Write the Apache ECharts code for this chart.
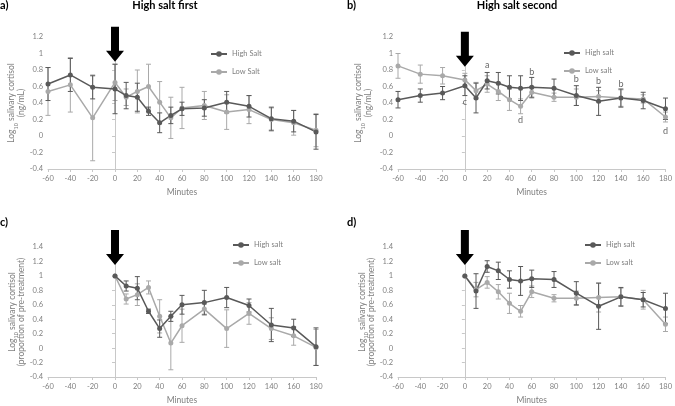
<!DOCTYPE html>
<html>
<head>
<meta charset="utf-8">
<script src="https://cdn.jsdelivr.net/npm/echarts@6/dist/echarts.min.js"></script>
<style>
  html, body { margin: 0; padding: 0; background: #fff; }
  #chart { width: 675px; height: 406px; }
</style>
</head>
<body>
<div id="chart"></div>
<script>
// minutes from start (treatment at 0)
var minutes = [-60, -40, -20, 0, 10, 20, 30, 40, 50, 60, 80, 100, 120, 140, 160, 180]
var minutesPost = [0, 10, 20, 30, 40, 50, 60, 80, 100, 120, 140, 160, 180]

// a) high salt first, log10 cortisol (ng/mL)
var aHigh = [0.63, 0.74, 0.59, 0.57, 0.49, 0.47, 0.30, 0.16, 0.25, 0.33, 0.34, 0.41, 0.36, 0.21, 0.18, 0.05]
var aHighErr = [0.20, 0.20, 0.14, 0.30, 0.16, 0.17, 0.05, 0.12, 0.10, 0.08, 0.10, 0.13, 0.13, 0.14, 0.13, 0.21]
var aLow = [0.54, 0.62, 0.22, 0.65, 0.47, 0.54, 0.60, 0.41, 0.22, 0.34, 0.37, 0.29, 0.32, 0.20, 0.16, 0.07]
var aLowErr = [0.29, 0.33, 0.52, 0.22, 0.10, 0.26, 0.27, 0.25, 0.25, 0.25, 0.17, 0.21, 0.17, 0.14, 0.15, 0.20]

// b) high salt second
var bHigh = [0.44, 0.49, 0.52, 0.61, 0.46, 0.67, 0.64, 0.59, 0.58, 0.59, 0.58, 0.49, 0.42, 0.46, 0.43, 0.33]
var bHighErr = [0.10, 0.08, 0.08, 0.12, 0.18, 0.10, 0.13, 0.14, 0.15, 0.12, 0.11, 0.12, 0.17, 0.11, 0.10, 0.13]
var bLow = [0.85, 0.75, 0.73, 0.68, 0.55, 0.63, 0.54, 0.44, 0.36, 0.53, 0.47, 0.47, 0.48, 0.46, 0.45, 0.23]
var bLowErr = [0.15, 0.11, 0.10, 0.08, 0.10, 0.10, 0.11, 0.13, 0.09, 0.07, 0.05, 0.10, 0.07, 0.10, 0.05, 0.06]
var bLetterX = [20, 0, 50, 60, 100, 120, 140, 180]
var bLetterY = [0.86, 0.41, 0.19, 0.78, 0.69, 0.66, 0.63, 0.06]
var bLetters = ['a', 'c', 'd', 'b', 'b', 'b', 'b', 'd']

// c) high salt first, proportion of pre-treatment
var cHigh = [1.0, 0.86, 0.83, 0.51, 0.27, 0.44, 0.60, 0.63, 0.70, 0.59, 0.32, 0.28, 0.02]
var cHighErr = [0, 0.07, 0.16, 0.03, 0.12, 0.07, 0.13, 0.17, 0.14, 0.09, 0.23, 0.12, 0.26]
var cLow = [1.0, 0.68, 0.74, 0.84, 0.44, 0.07, 0.31, 0.54, 0.27, 0.48, 0.27, 0.17, 0.01]
var cLowErr = [0, 0.07, 0.15, 0.09, 0.23, 0.37, 0.23, 0.07, 0.26, 0.15, 0.15, 0.13, 0.25]

// d) high salt second, proportion of pre-treatment
var dHigh = [1.0, 0.79, 1.13, 1.07, 0.95, 0.93, 0.96, 0.95, 0.76, 0.58, 0.71, 0.67, 0.55]
var dHighErr = [0, 0.24, 0.08, 0.12, 0.12, 0.20, 0.12, 0.11, 0.16, 0.32, 0.13, 0.10, 0.21]
var dLow = [1.0, 0.81, 0.91, 0.78, 0.62, 0.51, 0.78, 0.69, 0.69, 0.70, 0.71, 0.67, 0.33]
var dLowErr = [0, 0.10, 0.08, 0.10, 0.14, 0.08, 0.08, 0.05, 0.10, 0.20, 0.12, 0.13, 0.10]

var arrowTipY = [0.90, 0.84, 1.15, 1.15]

var DARK = '#595959'
var LIGHT = '#a9a9a9'
var AXIS = '#c8c8c8'
var TEXT = '#7f7f7f'
var FONT = 'Lato, "Liberation Sans", sans-serif'

function pairs(xs, ys) {
  var out = []
  for (var i = 0; i < xs.length; i++) out.push([xs[i], ys[i]])
  return out
}

function errData(xs, ys, es) {
  var out = []
  for (var i = 0; i < xs.length; i++) {
    if (es[i] > 0) out.push([xs[i], ys[i] - es[i], ys[i] + es[i]])
  }
  return out
}

function renderErr(params, api) {
  var x = api.value(0)
  var top = api.coord([x, api.value(2)])
  var bot = api.coord([x, api.value(1)])
  var w = 2.5
  var st = { stroke: api.visual('color'), lineWidth: 1 }
  return {
    type: 'group',
    children: [
      { type: 'line', shape: { x1: top[0], y1: top[1], x2: bot[0], y2: bot[1] }, style: st },
      { type: 'line', shape: { x1: top[0] - w, y1: top[1], x2: top[0] + w, y2: top[1] }, style: st },
      { type: 'line', shape: { x1: bot[0] - w, y1: bot[1], x2: bot[0] + w, y2: bot[1] }, style: st }
    ]
  }
}

function errSeries(idx, xs, ys, es, color) {
  return {
    type: 'custom',
    xAxisIndex: idx,
    yAxisIndex: idx,
    renderItem: renderErr,
    itemStyle: { color: color },
    encode: { x: 0, y: [1, 2] },
    data: errData(xs, ys, es),
    z: 2
  }
}

function lineSeries(idx, name, xs, ys, color) {
  return {
    type: 'line',
    name: name,
    xAxisIndex: idx,
    yAxisIndex: idx,
    data: pairs(xs, ys),
    symbol: 'circle',
    symbolSize: 5,
    itemStyle: { color: color },
    lineStyle: { color: color, width: 1.5 },
    z: 3
  }
}

var grids = [
  { left: 48, top: 37, width: 268, height: 132 },
  { left: 398, top: 37, width: 270, height: 132 },
  { left: 48, top: 247, width: 268, height: 131 },
  { left: 398, top: 247, width: 270, height: 131 }
]

var yNames = [
  '{n|Log}{s|10}{n| salivary cortisol}\n{n|(ng/mL)}',
  '{n|Log}{s|10}{n| salivary cortisol}\n{n|(ng/mL)}',
  '{n|Log}{s|10}{n| salivary cortisol}\n{n|(proportion of pre-treatment)}',
  '{n|Log}{s|10}{n| salivary cortisol}\n{n|(proportion of pre-treatment)}'
]
var yGaps = [22, 25, 20, 20]
var yMax = [1.2, 1.2, 1.4, 1.4]

var xAxes = []
var yAxes = []
for (var i = 0; i < 4; i++) {
  xAxes.push({
    type: 'value',
    gridIndex: i,
    min: -60,
    max: 180,
    interval: 20,
    name: 'Minutes',
    nameLocation: 'middle',
    nameGap: 19,
    nameTextStyle: { fontSize: 8.5, color: TEXT, fontFamily: FONT },
    axisLine: { onZero: false, lineStyle: { color: AXIS } },
    axisTick: { show: true, length: 3, lineStyle: { color: AXIS } },
    splitLine: { show: false },
    axisLabel: { fontSize: 7.5, color: TEXT, margin: 6, fontFamily: FONT }
  })
  yAxes.push({
    type: 'value',
    gridIndex: i,
    min: -0.4,
    max: yMax[i],
    interval: 0.2,
    name: yNames[i],
    nameLocation: 'middle',
    nameGap: yGaps[i],
    nameTextStyle: {
      color: TEXT,
      align: 'center',
      fontFamily: FONT,
      rich: {
        n: { fontSize: 8.5, color: TEXT, fontFamily: FONT, lineHeight: 9.5 },
        s: { fontSize: 5.5, color: TEXT, fontFamily: FONT, verticalAlign: 'bottom', lineHeight: 9.5, padding: [0, 0, -3, 0] }
      }
    },
    axisLine: { show: true, lineStyle: { color: AXIS } },
    axisTick: { show: true, length: 3, lineStyle: { color: AXIS } },
    splitLine: { show: false },
    axisLabel: { fontSize: 7.5, color: TEXT, margin: 5, fontFamily: FONT }
  })
}

var legendStyle = { fontSize: 7.5, color: TEXT, fontFamily: FONT }
function legendAt(left, top, names) {
  return {
    left: left, top: top, orient: 'vertical',
    itemWidth: 16, itemHeight: 7, itemGap: 10,
    textStyle: legendStyle,
    data: names
  }
}

var letterData = []
for (var k = 0; k < bLetters.length; k++) {
  letterData.push([bLetterX[k], bLetterY[k], bLetters[k]])
}

var titleStyle = { fontSize: 11, fontWeight: 'bold', color: '#000', fontFamily: FONT }

var option = {
  animation: false,
  title: [
    { text: 'a)', left: 0, top: 0, textStyle: titleStyle, padding: 0 },
    { text: 'High salt first', left: 165, top: 0, textAlign: 'center', textStyle: titleStyle, padding: 0 },
    { text: 'b)', left: 347, top: 0, textStyle: titleStyle, padding: 0 },
    { text: 'High salt second', left: 517, top: 0, textAlign: 'center', textStyle: titleStyle, padding: 0 },
    { text: 'c)', left: 0, top: 217, textStyle: titleStyle, padding: 0 },
    { text: 'd)', left: 347, top: 217, textStyle: titleStyle, padding: 0 }
  ],
  legend: [
    legendAt(205, 45, ['High Salt', 'Low Salt']),
    legendAt(558, 44, ['High salt', 'Low salt']),
    legendAt(227, 236, ['High salt', 'Low salt']),
    legendAt(579, 236, ['High salt', 'Low salt'])
  ],
  grid: grids,
  xAxis: xAxes,
  yAxis: yAxes,
  series: [
    errSeries(0, minutes, aLow, aLowErr, LIGHT),
    lineSeries(0, 'Low Salt', minutes, aLow, LIGHT),
    errSeries(0, minutes, aHigh, aHighErr, DARK),
    lineSeries(0, 'High Salt', minutes, aHigh, DARK),

    errSeries(1, minutes, bLow, bLowErr, LIGHT),
    lineSeries(1, 'Low salt', minutes, bLow, LIGHT),
    errSeries(1, minutes, bHigh, bHighErr, DARK),
    lineSeries(1, 'High salt', minutes, bHigh, DARK),
    {
      type: 'scatter',
      xAxisIndex: 1,
      yAxisIndex: 1,
      data: letterData,
      symbolSize: 0,
      silent: true,
      label: {
        show: true,
        position: 'inside',
        formatter: function (p) { return p.data[2] },
        fontSize: 9,
        color: '#404040',
        fontFamily: FONT
      },
      z: 5
    },

    errSeries(2, minutesPost, cLow, cLowErr, LIGHT),
    lineSeries(2, 'Low salt', minutesPost, cLow, LIGHT),
    errSeries(2, minutesPost, cHigh, cHighErr, DARK),
    lineSeries(2, 'High salt', minutesPost, cHigh, DARK),

    errSeries(3, minutesPost, dLow, dLowErr, LIGHT),
    lineSeries(3, 'Low salt', minutesPost, dLow, LIGHT),
    errSeries(3, minutesPost, dHigh, dHighErr, DARK),
    lineSeries(3, 'High salt', minutesPost, dHigh, DARK)
  ]
}

var myChart = echarts.init(document.getElementById('chart'))
myChart.setOption(option)

// treatment arrows at minute 0
var arrows = []
for (var g = 0; g < 4; g++) {
  var tip = myChart.convertToPixel({ gridIndex: g }, [0, arrowTipY[g]])
  var x0 = tip[0], y0 = tip[1]
  arrows.push({
    type: 'polygon',
    z: 10,
    shape: {
      points: [
        [x0 - 4, y0 - 35], [x0 + 4, y0 - 35], [x0 + 4, y0 - 11],
        [x0 + 9, y0 - 11], [x0, y0], [x0 - 9, y0 - 11], [x0 - 4, y0 - 11]
      ]
    },
    style: { fill: '#000' }
  })
}
myChart.setOption({ graphic: arrows })
</script>
</body>
</html>
